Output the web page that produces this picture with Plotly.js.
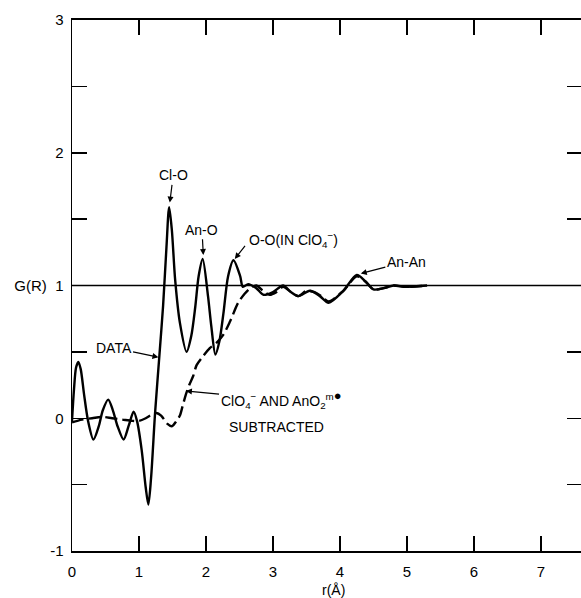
<!DOCTYPE html>
<html>
<head>
<meta charset="utf-8">
<script src="https://cdn.plot.ly/plotly-3.0.1.min.js"></script>
<style>
  html, body { margin: 0; padding: 0; background: #fff; overflow: hidden; }
  #chart { width: 600px; height: 598px; }
</style>
</head>
<body>
<div id="chart"></div>
<script>
// Measured data curve G(R)
const rData = [0.00,0.03,0.06,0.094,0.13,0.18,0.24,0.32,0.40,0.46,0.54,0.61,0.68,0.77,0.85,0.92,0.97,1.04,1.10,1.14,1.18,1.24,1.31,1.36,1.41,1.45,1.49,1.54,1.61,1.71,1.78,1.84,1.89,1.95,2.03,2.08,2.14,2.20,2.26,2.33,2.41,2.51,2.55,2.63,2.75,2.86,3.00,3.15,3.27,3.38,3.55,3.70,3.83,4.05,4.25,4.38,4.50,4.65,4.80,4.95,5.30];
const gData = [-0.02,0.22,0.38,0.425,0.37,0.18,-0.02,-0.16,-0.06,0.06,0.14,0.06,-0.06,-0.16,-0.05,0.05,-0.02,-0.24,-0.52,-0.65,-0.45,0.04,0.51,0.85,1.29,1.59,1.42,1.04,0.72,0.50,0.62,0.84,1.07,1.20,0.92,0.69,0.48,0.58,0.79,1.07,1.19,1.07,0.99,1.01,0.98,0.93,0.95,1.00,0.95,0.92,0.96,0.92,0.87,0.96,1.08,1.03,0.97,0.98,1.00,0.99,1.00];

// ClO4- and AnO2 subtracted curve
const rSub = [0.00,0.15,0.30,0.45,0.60,0.75,0.90,1.00,1.10,1.20,1.26,1.33,1.42,1.49,1.56,1.61,1.65,1.70,1.75,1.81,1.86,1.96,2.06,2.16,2.26,2.36,2.48,2.58,2.66,2.75,2.85,2.95,3.05,3.15,3.27,3.38,3.50,3.62,3.72,3.83,4.05,4.25,4.38,4.50,4.65,4.80,5.00,5.30];
const gSub = [-0.03,-0.01,0.00,0.01,0.00,-0.01,-0.02,-0.02,0.00,0.03,0.04,0.02,-0.04,-0.06,-0.02,0.02,0.09,0.18,0.25,0.32,0.40,0.47,0.53,0.57,0.63,0.73,0.87,0.94,0.98,1.00,0.96,0.93,0.95,0.99,0.95,0.92,0.96,0.95,0.92,0.88,0.96,1.07,1.03,0.97,0.98,1.00,0.99,1.00];

const xTickVals = [0,1,2,3,4,5,6,7];
const xTickText = ['0','1','2','3','4','5','6','7'];
const yTickVals = [-1,0,1,2,3];
const yTickText = ['-1','0','G(R)  1','2','3'];

const FONT = 'Liberation Sans, Arial, sans-serif';

const traces = [
  {x: rData, y: gData, mode: 'lines', type: 'scatter',
   line: {color: '#000', width: 2.4, shape: 'spline', smoothing: 0.8}, hoverinfo: 'skip'},
  {x: rSub, y: gSub, mode: 'lines', type: 'scatter',
   line: {color: '#000', width: 2.4, dash: '12px,5px', shape: 'spline', smoothing: 0.8}, hoverinfo: 'skip'}
];

const annFont = {family: FONT, size: 14, color: '#000'};
function label(text, x, y, xanchor) {
  return {text: text, x: x, y: y, xref: 'x', yref: 'y', showarrow: false,
          xanchor: xanchor || 'center', yanchor: 'middle', font: annFont};
}
// label with arrow: (tx,ty) = text centre, (hx,hy) = arrow head
function pointer(text, tx, ty, hx, hy) {
  return {text: text, x: hx, y: hy, ax: tx, ay: ty, xref: 'x', yref: 'y', axref: 'x', ayref: 'y',
          xanchor: 'center', yanchor: 'middle', font: annFont,
          showarrow: true, arrowhead: 2, arrowsize: 1, arrowwidth: 1.2, arrowcolor: '#000'};
}

const tickStyle = {ticks: 'inside', ticklen: 15, tickwidth: 1.5, tickcolor: '#000'};

const layout = {
  width: 600, height: 598,
  margin: {l: 72, r: 18, t: 20, b: 47},
  paper_bgcolor: '#fff', plot_bgcolor: '#fff',
  showlegend: false,
  font: {family: FONT, size: 15, color: '#000'},
  xaxis: Object.assign({
    range: [0, 7.612], tickvals: xTickVals, ticktext: xTickText,
    showline: true, linecolor: '#000', linewidth: 1.8, mirror: 'ticks',
    showgrid: false, zeroline: false, tickfont: {family: FONT, size: 15},
    ticklabelstandoff: 6
  }, tickStyle),
  yaxis: Object.assign({
    range: [-1, 3], tickvals: yTickVals, ticktext: yTickText,
    showline: true, linecolor: '#000', linewidth: 1.5, mirror: 'ticks',
    showgrid: false, zeroline: false, tickfont: {family: FONT, size: 15},
    ticklabelstandoff: 4,
    minor: {dtick: 0.5, ticks: 'inside', ticklen: 15, tickwidth: 1.5, tickcolor: '#000', showgrid: false}
  }, tickStyle),
  shapes: [
    {type: 'line', xref: 'paper', yref: 'y', x0: 0, x1: 1, y0: 1, y1: 1,
     line: {color: '#000', width: 1.6}}
  ],
  annotations: [
    pointer('Cl-O', 1.51, 1.83, 1.46, 1.625),
    pointer('An-O', 1.94, 1.42, 1.96, 1.23),
    label('O-O(IN ClO<sub>4</sub><sup>−</sup>)', 2.61, 1.34, 'left'),
    {text: '', x: 2.43, y: 1.20, ax: 2.60, ay: 1.31, xref: 'x', yref: 'y', axref: 'x', ayref: 'y',
     showarrow: true, arrowhead: 2, arrowsize: 1, arrowwidth: 1.2, arrowcolor: '#000'},
    pointer('An-An', 4.99, 1.18, 4.31, 1.09),
    pointer('DATA', 0.62, 0.53, 1.29, 0.46),
    pointer('ClO<sub>4</sub><sup>−</sup> AND AnO<sub>2</sub><sup>m<span style="font-size:13px">●</span></sup>', 3.12, 0.14, 1.70, 0.205),
    label('SUBTRACTED', 2.31, -0.065, 'left'),
    {text: 'r(Å)', x: 3.91, y: -0.074, xref: 'x', yref: 'paper', showarrow: false,
     xanchor: 'center', yanchor: 'middle', font: {family: FONT, size: 14, color: '#000'}}
  ]
};

Plotly.newPlot('chart', traces, layout, {staticPlot: true, displayModeBar: false});
</script>
</body>
</html>
